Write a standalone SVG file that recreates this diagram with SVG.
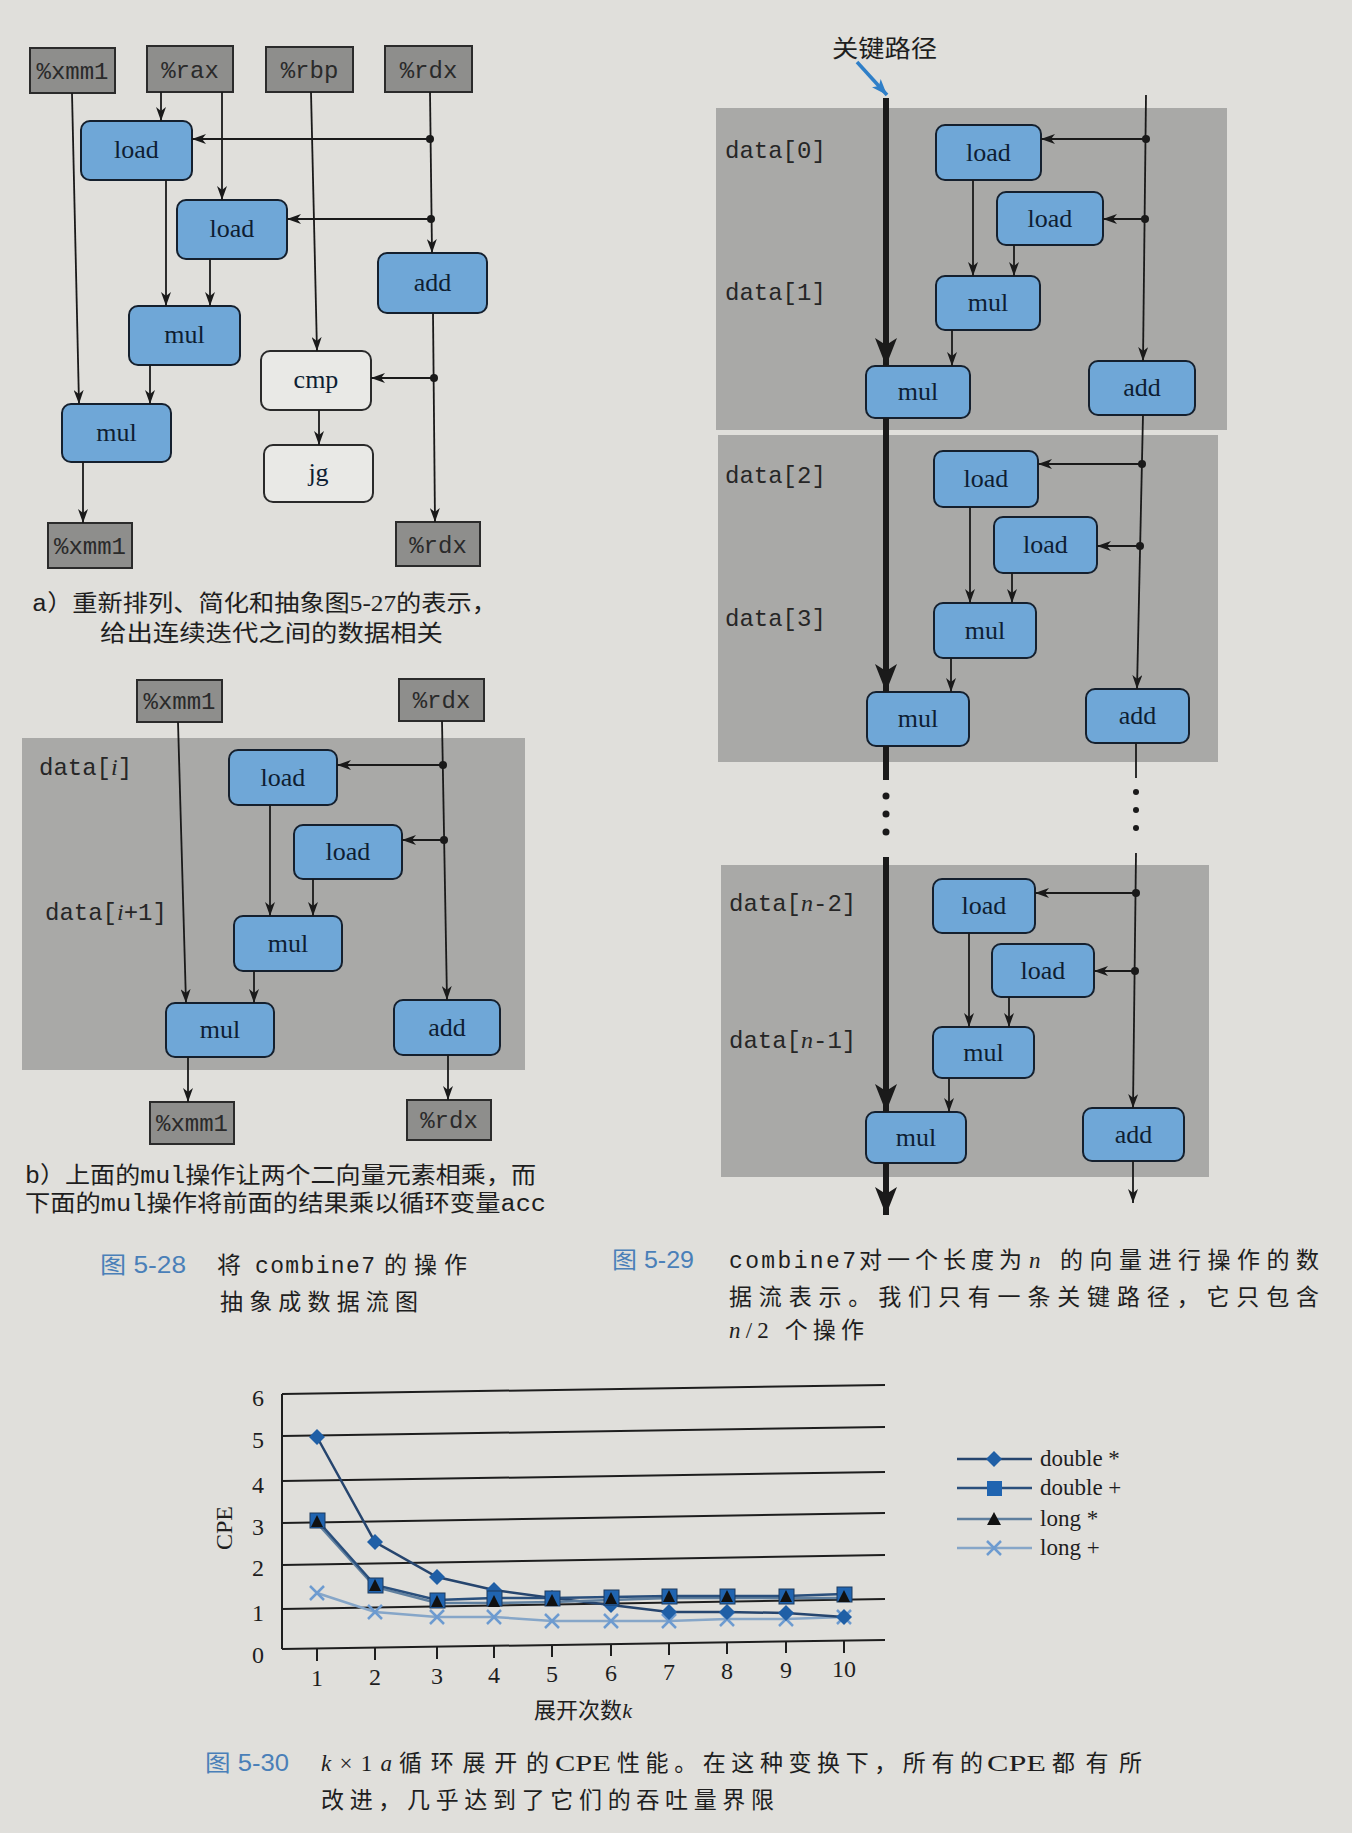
<svg xmlns="http://www.w3.org/2000/svg" width="1352" height="1833" viewBox="0 0 1352 1833">
<defs>
<marker id="ah" viewBox="0 0 14 10" refX="14" refY="5" markerWidth="14" markerHeight="10" markerUnits="userSpaceOnUse" orient="auto"><path d="M0,0 L14,5 L0,10 L4,5 z" fill="#1a1a1a"/></marker>
<marker id="ahb" viewBox="0 0 28 22" refX="28" refY="11" markerWidth="28" markerHeight="22" markerUnits="userSpaceOnUse" orient="auto"><path d="M0,0 L28,11 L0,22 L7,11 z" fill="#1a1a1a"/></marker>
<marker id="ahblue" viewBox="0 0 16 12" refX="16" refY="6" markerWidth="16" markerHeight="12" markerUnits="userSpaceOnUse" orient="auto"><path d="M0,0 L16,6 L0,12 L4,6 z" fill="#2f7fc8"/></marker>
<style>
.bg{fill:#e0dfdb}
.panel{fill:#a9a9a7}
.reg{fill:#8e8e8c;stroke:#2b2b2b;stroke-width:2}
.op{fill:#6fa7d7;stroke:#15202e;stroke-width:2}
.opw{fill:#e9e9e6;stroke:#2a2a2a;stroke-width:2}
.regt{font-family:"Liberation Mono",monospace;font-size:24px;fill:#2a2a2a;text-anchor:middle}
.opt{font-family:"Liberation Serif",serif;font-size:26px;fill:#0e1e33;text-anchor:middle}
.dl{font-family:"Liberation Mono",monospace;font-size:24px;fill:#262626}
.it{font-family:"Liberation Serif",serif;font-style:italic}
.e{fill:none;stroke:#1a1a1a;stroke-width:1.8}
.ea{fill:none;stroke:#1a1a1a;stroke-width:1.8;marker-end:url(#ah)}
.thick{fill:none;stroke:#1a1a1a;stroke-width:6}
.thicka{fill:none;stroke:#1a1a1a;stroke-width:6;marker-end:url(#ahb)}
.dot{fill:#1a1a1a}
.cap{font-family:"Liberation Serif","Noto Sans CJK SC",sans-serif;font-size:23px;fill:#1e1e1e}
.mono{font-family:"Liberation Mono",monospace}
.fig{font-family:"Liberation Sans","Noto Sans CJK SC",sans-serif;font-size:23px;fill:#4a7fb8}
.ax{font-family:"Liberation Serif",serif;font-size:24px;fill:#1e1e1e;text-anchor:middle}
.grid{stroke:#1e1e1e;stroke-width:2;fill:none}
.lg{font-family:"Liberation Serif",serif;font-size:23px;fill:#1e1e1e}
</style>
</defs>
<rect class="bg" x="0" y="0" width="1352" height="1833"/>

<!-- ===== Figure a ===== -->
<g id="a-xmm1-in"><rect class="reg" x="30" y="48" width="85" height="45"/><text class="regt" x="72.5" y="79">%xmm1</text></g>
<g id="a-rax"><rect class="reg" x="147" y="46" width="86" height="46"/><text class="regt" x="190" y="78">%rax</text></g>
<g id="a-rbp"><rect class="reg" x="266" y="47" width="87" height="45"/><text class="regt" x="309.5" y="78">%rbp</text></g>
<g id="a-rdx-in"><rect class="reg" x="385" y="46" width="87" height="46"/><text class="regt" x="428.5" y="78">%rdx</text></g>
<g id="a-load1"><rect class="op" x="81" y="121" width="111" height="59" rx="9"/><text class="opt" x="136.5" y="158">load</text></g>
<g id="a-load2"><rect class="op" x="177" y="200" width="110" height="59" rx="9"/><text class="opt" x="232" y="237">load</text></g>
<g id="a-add"><rect class="op" x="378" y="253" width="109" height="60" rx="9"/><text class="opt" x="432.5" y="291">add</text></g>
<g id="a-mul1"><rect class="op" x="129" y="306" width="111" height="59" rx="9"/><text class="opt" x="184.5" y="343">mul</text></g>
<g id="a-cmp"><rect class="opw" x="261" y="351" width="110" height="59" rx="9"/><text class="opt" x="316" y="388">cmp</text></g>
<g id="a-mul2"><rect class="op" x="62" y="404" width="109" height="58" rx="9"/><text class="opt" x="116.5" y="441">mul</text></g>
<g id="a-jg"><rect class="opw" x="264" y="445" width="109" height="57" rx="9"/><text class="opt" x="318.5" y="481">jg</text></g>
<g id="a-xmm1-out"><rect class="reg" x="48" y="523" width="84" height="45"/><text class="regt" x="90" y="554">%xmm1</text></g>
<g id="a-rdx-out"><rect class="reg" x="396" y="522" width="84" height="44"/><text class="regt" x="438" y="553">%rdx</text></g>

<g id="a-edges">
<path class="ea" d="M72,93 L79,404"/>
<path class="ea" d="M161,92 V121"/>
<path class="ea" d="M222,92 V200"/>
<path class="ea" d="M311,92 L317,351"/>
<path class="ea" d="M430,92 L432,253"/>
<path class="ea" d="M430,139 H192"/>
<path class="ea" d="M431,219 H287"/>
<path class="ea" d="M433,313 L435,522"/>
<path class="ea" d="M434,378 H371"/>
<path class="ea" d="M166,180 V306"/>
<path class="ea" d="M210,259 V306"/>
<path class="ea" d="M150,365 V404"/>
<path class="ea" d="M319,410 V445"/>
<path class="ea" d="M83,462 V523"/>
<circle class="dot" cx="430" cy="139" r="4"/>
<circle class="dot" cx="431" cy="219" r="4"/>
<circle class="dot" cx="434" cy="378" r="4"/>
</g>

<text class="cap" x="32" y="611" textLength="465" lengthAdjust="spacingAndGlyphs"><tspan class="mono">a</tspan>）重新排列、简化和抽象图5-27的表示，</text>
<text class="cap" x="100" y="641" textLength="343" lengthAdjust="spacingAndGlyphs">给出连续迭代之间的数据相关</text>

<!-- ===== Figure b ===== -->
<rect class="panel" x="22" y="738" width="503" height="332"/>
<text class="dl" x="39" y="775">data[<tspan class="it">i</tspan>]</text>
<text class="dl" x="45" y="920">data[<tspan class="it">i</tspan>+1]</text>
<g id="b-xmm1-in"><rect class="reg" x="137" y="680" width="85" height="42"/><text class="regt" x="179.5" y="709">%xmm1</text></g>
<g id="b-rdx-in"><rect class="reg" x="399" y="679" width="85" height="42"/><text class="regt" x="441.5" y="708">%rdx</text></g>
<g id="b-load1"><rect class="op" x="229" y="750" width="108" height="55" rx="9"/><text class="opt" x="283" y="786">load</text></g>
<g id="b-load2"><rect class="op" x="294" y="825" width="108" height="54" rx="9"/><text class="opt" x="348" y="860">load</text></g>
<g id="b-mul1"><rect class="op" x="234" y="916" width="108" height="55" rx="9"/><text class="opt" x="288" y="952">mul</text></g>
<g id="b-mul2"><rect class="op" x="166" y="1003" width="108" height="54" rx="9"/><text class="opt" x="220" y="1038">mul</text></g>
<g id="b-add"><rect class="op" x="394" y="1000" width="106" height="55" rx="9"/><text class="opt" x="447" y="1036">add</text></g>
<g id="b-xmm1-out"><rect class="reg" x="150" y="1102" width="84" height="42"/><text class="regt" x="192" y="1131">%xmm1</text></g>
<g id="b-rdx-out"><rect class="reg" x="407" y="1100" width="84" height="40"/><text class="regt" x="449" y="1128">%rdx</text></g>

<g id="b-edges">
<path class="ea" d="M178,722 L186,1003"/>
<path class="ea" d="M442,721 L447,1000"/>
<path class="ea" d="M443,765 H337"/>
<path class="ea" d="M444,840 H402"/>
<path class="ea" d="M270,805 V916"/>
<path class="ea" d="M313,879 V916"/>
<path class="ea" d="M254,971 V1003"/>
<path class="ea" d="M188,1057 V1102"/>
<path class="ea" d="M448,1055 V1100"/>
<circle class="dot" cx="443" cy="765" r="4"/>
<circle class="dot" cx="444" cy="840" r="4"/>
</g>

<text class="cap" x="25" y="1183" textLength="511" lengthAdjust="spacingAndGlyphs"><tspan class="mono">b</tspan>）上面的<tspan class="mono">mul</tspan>操作让两个二向量元素相乘，而</text>
<text class="cap" x="25" y="1211" textLength="521" lengthAdjust="spacingAndGlyphs">下面的<tspan class="mono">mul</tspan>操作将前面的结果乘以循环变量<tspan class="mono">acc</tspan></text>

<text class="fig" x="100" y="1273" textLength="86" lengthAdjust="spacingAndGlyphs">图 5-28</text>
<text class="cap" x="217" y="1273" textLength="24" lengthAdjust="spacingAndGlyphs">将</text>
<text class="cap mono" x="255" y="1273" textLength="120" lengthAdjust="spacing">combine7</text>
<text class="cap" x="384" y="1273" textLength="83" lengthAdjust="spacing">的操作</text>
<text class="cap" x="220" y="1310" textLength="198" lengthAdjust="spacing">抽象成数据流图</text>

<!-- ===== Figure 5-29 ===== -->
<rect class="panel" x="716" y="108" width="511" height="322"/>
<rect class="panel" x="718" y="435" width="500" height="327"/>
<rect class="panel" x="721" y="865" width="488" height="312"/>

<text x="832" y="57" font-family="Noto Sans CJK SC, sans-serif" font-size="24" fill="#1e1e1e" textLength="105" lengthAdjust="spacingAndGlyphs">关键路径</text>
<path d="M857,62 L887,95" stroke="#2f7fc8" stroke-width="3.5" fill="none" marker-end="url(#ahblue)"/>

<text class="dl" x="725" y="158">data[0]</text>
<text class="dl" x="725" y="300">data[1]</text>
<text class="dl" x="725" y="483">data[2]</text>
<text class="dl" x="725" y="626">data[3]</text>
<text class="dl" x="729" y="911">data[<tspan class="it">n</tspan>-2]</text>
<text class="dl" x="729" y="1048">data[<tspan class="it">n</tspan>-1]</text>

<g id="c1-load1"><rect class="op" x="936" y="125" width="105" height="55" rx="9"/><text class="opt" x="988.5" y="161">load</text></g>
<g id="c1-load2"><rect class="op" x="997" y="192" width="106" height="53" rx="9"/><text class="opt" x="1050" y="227">load</text></g>
<g id="c1-mul1"><rect class="op" x="936" y="276" width="104" height="54" rx="9"/><text class="opt" x="988" y="311">mul</text></g>
<g id="c1-mul2"><rect class="op" x="866" y="366" width="104" height="52" rx="9"/><text class="opt" x="918" y="400">mul</text></g>
<g id="c1-add"><rect class="op" x="1089" y="361" width="106" height="54" rx="9"/><text class="opt" x="1142" y="396">add</text></g>

<g id="c2-load1"><rect class="op" x="934" y="451" width="104" height="56" rx="9"/><text class="opt" x="986" y="487">load</text></g>
<g id="c2-load2"><rect class="op" x="994" y="517" width="103" height="56" rx="9"/><text class="opt" x="1045.5" y="553">load</text></g>
<g id="c2-mul1"><rect class="op" x="934" y="603" width="102" height="55" rx="9"/><text class="opt" x="985" y="639">mul</text></g>
<g id="c2-mul2"><rect class="op" x="867" y="692" width="102" height="54" rx="9"/><text class="opt" x="918" y="727">mul</text></g>
<g id="c2-add"><rect class="op" x="1086" y="689" width="103" height="54" rx="9"/><text class="opt" x="1137.5" y="724">add</text></g>

<g id="c3-load1"><rect class="op" x="933" y="879" width="102" height="54" rx="9"/><text class="opt" x="984" y="914">load</text></g>
<g id="c3-load2"><rect class="op" x="992" y="944" width="102" height="53" rx="9"/><text class="opt" x="1043" y="979">load</text></g>
<g id="c3-mul1"><rect class="op" x="933" y="1027" width="101" height="51" rx="9"/><text class="opt" x="983.5" y="1061">mul</text></g>
<g id="c3-mul2"><rect class="op" x="866" y="1112" width="100" height="51" rx="9"/><text class="opt" x="916" y="1146">mul</text></g>
<g id="c3-add"><rect class="op" x="1083" y="1108" width="101" height="53" rx="9"/><text class="opt" x="1133.5" y="1143">add</text></g>

<g id="c-edges">
<path class="thicka" d="M886,98 V366"/>
<path class="thicka" d="M886,418 V692"/>
<path class="thick" d="M886,746 V780"/>
<circle class="dot" cx="886" cy="796" r="3.5"/>
<circle class="dot" cx="886" cy="814" r="3.5"/>
<circle class="dot" cx="886" cy="832" r="3.5"/>
<path class="thicka" d="M886,857 V1112"/>
<path class="thicka" d="M886,1163 V1215"/>

<path class="ea" d="M1146,95 L1143,361"/>
<path class="ea" d="M1146,139 H1041"/>
<path class="ea" d="M1145,219 H1103"/>
<path class="ea" d="M973,180 V276"/>
<path class="ea" d="M1014,245 V276"/>
<path class="ea" d="M952,330 V366"/>
<circle class="dot" cx="1146" cy="139" r="4"/>
<circle class="dot" cx="1145" cy="219" r="4"/>

<path class="ea" d="M1143,415 L1137,689"/>
<path class="ea" d="M1142,464 H1038"/>
<path class="ea" d="M1140,546 H1097"/>
<path class="ea" d="M970,507 V603"/>
<path class="ea" d="M1012,573 V603"/>
<path class="ea" d="M951,658 V692"/>
<circle class="dot" cx="1142" cy="464" r="4"/>
<circle class="dot" cx="1140" cy="546" r="4"/>

<path class="e" d="M1136,743 V778"/>
<circle class="dot" cx="1136" cy="792" r="3"/>
<circle class="dot" cx="1136" cy="810" r="3"/>
<circle class="dot" cx="1136" cy="828" r="3"/>
<path class="ea" d="M1136,853 L1133,1108"/>
<path class="ea" d="M1136,893 H1035"/>
<path class="ea" d="M1135,971 H1094"/>
<path class="ea" d="M969,933 V1027"/>
<path class="ea" d="M1009,997 V1027"/>
<path class="ea" d="M949,1078 V1112"/>
<circle class="dot" cx="1136" cy="893" r="4"/>
<circle class="dot" cx="1135" cy="971" r="4"/>
<path class="ea" d="M1133,1161 V1203"/>
</g>

<text class="fig" x="612" y="1268" textLength="82" lengthAdjust="spacingAndGlyphs">图 5-29</text>
<text class="cap mono" x="729" y="1268" textLength="127" lengthAdjust="spacing">combine7</text>
<text class="cap" x="859" y="1268" textLength="163" lengthAdjust="spacing">对一个长度为</text>
<text class="cap it" x="1029" y="1268">n</text>
<text class="cap" x="1060" y="1268" textLength="259" lengthAdjust="spacing">的向量进行操作的数</text>
<text class="cap" x="729" y="1305" textLength="590" lengthAdjust="spacing">据流表示。我们只有一条关键路径，它只包含</text>
<text class="cap" x="729" y="1338" textLength="135" lengthAdjust="spacing"><tspan class="it">n</tspan>/2 个操作</text>

<!-- ===== Figure 5-30 chart ===== -->
<g id="chart">
<path class="grid" d="M282,1394 L885,1385"/>
<path class="grid" d="M282,1436 L885,1427"/>
<path class="grid" d="M282,1481 L885,1472"/>
<path class="grid" d="M282,1523 L885,1513"/>
<path class="grid" d="M282,1565 L885,1555"/>
<path class="grid" d="M282,1609 L885,1599"/>
<path class="grid" d="M282,1649 L885,1640"/>
<path class="grid" d="M282,1394 V1649"/>
<path class="grid" stroke-width="1.5" d="M317,1649 v12 M375,1648 v12 M437,1647 v12 M494,1646 v12 M552,1645 v12 M611,1644 v12 M669,1643 v12 M727,1642 v12 M786,1641 v12 M844,1641 v12"/>
<text class="ax" x="258" y="1406">6</text>
<text class="ax" x="258" y="1448">5</text>
<text class="ax" x="258" y="1493">4</text>
<text class="ax" x="258" y="1535">3</text>
<text class="ax" x="258" y="1576">2</text>
<text class="ax" x="258" y="1621">1</text>
<text class="ax" x="258" y="1663">0</text>
<text class="ax" x="317" y="1686">1</text>
<text class="ax" x="375" y="1685">2</text>
<text class="ax" x="437" y="1684">3</text>
<text class="ax" x="494" y="1683">4</text>
<text class="ax" x="552" y="1682">5</text>
<text class="ax" x="611" y="1681">6</text>
<text class="ax" x="669" y="1680">7</text>
<text class="ax" x="727" y="1679">8</text>
<text class="ax" x="786" y="1678">9</text>
<text class="ax" x="844" y="1677">10</text>
<text x="583" y="1718" font-family="Noto Sans CJK SC, sans-serif" font-size="22" fill="#1e1e1e" text-anchor="middle">展开次数<tspan font-family="Liberation Serif, serif" font-style="italic">k</tspan></text>
<text class="ax" font-size="22" transform="translate(232,1528) rotate(-90)">CPE</text>

<!-- long + -->
<polyline fill="none" stroke="#86a6c8" stroke-width="2.5" points="317,1593 375,1612 437,1617 494,1617 552,1621 611,1621 669,1621 727,1619 786,1619 844,1617"/>
<g stroke="#6d9bd0" stroke-width="2.5" fill="none">
<path d="M310,1586 l14,14 m0,-14 l-14,14"/>
<path d="M368,1605 l14,14 m0,-14 l-14,14"/>
<path d="M430,1610 l14,14 m0,-14 l-14,14"/>
<path d="M487,1610 l14,14 m0,-14 l-14,14"/>
<path d="M545,1614 l14,14 m0,-14 l-14,14"/>
<path d="M604,1614 l14,14 m0,-14 l-14,14"/>
<path d="M662,1614 l14,14 m0,-14 l-14,14"/>
<path d="M720,1612 l14,14 m0,-14 l-14,14"/>
<path d="M779,1612 l14,14 m0,-14 l-14,14"/>
<path d="M837,1610 l14,14 m0,-14 l-14,14"/>
</g>
<!-- double * -->
<polyline fill="none" stroke="#26456e" stroke-width="2.5" points="317,1437 375,1542 437,1577 494,1590 552,1598 611,1605 669,1612 727,1612 786,1613 844,1617"/>
<g fill="#1f5fa6">
<path d="M317,1429 l8,8 l-8,8 l-8,-8 z"/>
<path d="M375,1534 l8,8 l-8,8 l-8,-8 z"/>
<path d="M437,1569 l8,8 l-8,8 l-8,-8 z"/>
<path d="M494,1582 l8,8 l-8,8 l-8,-8 z"/>
<path d="M552,1590 l8,8 l-8,8 l-8,-8 z"/>
<path d="M611,1597 l8,8 l-8,8 l-8,-8 z"/>
<path d="M669,1604 l8,8 l-8,8 l-8,-8 z"/>
<path d="M727,1604 l8,8 l-8,8 l-8,-8 z"/>
<path d="M786,1605 l8,8 l-8,8 l-8,-8 z"/>
<path d="M844,1609 l8,8 l-8,8 l-8,-8 z"/>
</g>
<!-- long * line -->
<polyline fill="none" stroke="#5f7f9e" stroke-width="2.5" points="317,1523 375,1587 437,1603 494,1603 552,1602 611,1600 669,1598 727,1598 786,1598 844,1598"/>
<!-- double + -->
<polyline fill="none" stroke="#2a4f7c" stroke-width="2.5" points="317,1520 375,1585 437,1600 494,1598 552,1598 611,1597 669,1596 727,1596 786,1596 844,1594"/>
<g fill="#2064b0" stroke="#1d3b5e" stroke-width="1">
<rect x="310" y="1513" width="15" height="15"/>
<rect x="368" y="1578" width="15" height="15"/>
<rect x="430" y="1593" width="15" height="15"/>
<rect x="487" y="1591" width="15" height="15"/>
<rect x="545" y="1591" width="15" height="15"/>
<rect x="604" y="1590" width="15" height="15"/>
<rect x="662" y="1589" width="15" height="15"/>
<rect x="720" y="1589" width="15" height="15"/>
<rect x="779" y="1589" width="15" height="15"/>
<rect x="837" y="1587" width="15" height="15"/>
</g>
<g fill="#111111">
<path d="M317,1515 l6,12 h-12 z"/>
<path d="M375,1579 l6,12 h-12 z"/>
<path d="M437,1595 l6,12 h-12 z"/>
<path d="M494,1595 l6,12 h-12 z"/>
<path d="M552,1594 l6,12 h-12 z"/>
<path d="M611,1592 l6,12 h-12 z"/>
<path d="M669,1590 l6,12 h-12 z"/>
<path d="M727,1590 l6,12 h-12 z"/>
<path d="M786,1590 l6,12 h-12 z"/>
<path d="M844,1590 l6,12 h-12 z"/>
</g>

<!-- legend -->
<path d="M957,1459 H1032" stroke="#26456e" stroke-width="2.5"/>
<path d="M994,1451 l8,8 l-8,8 l-8,-8 z" fill="#1f5fa6"/>
<text class="lg" x="1040" y="1466">double *</text>
<path d="M957,1488 H1032" stroke="#2a4f7c" stroke-width="2.5"/>
<rect x="987" y="1481" width="15" height="15" fill="#2064b0"/>
<text class="lg" x="1040" y="1495">double +</text>
<path d="M957,1519 H1032" stroke="#5f7f9e" stroke-width="2.5"/>
<path d="M994,1512 l7,13 h-14 z" fill="#111111"/>
<text class="lg" x="1040" y="1526">long *</text>
<path d="M957,1548 H1032" stroke="#86a6c8" stroke-width="2.5"/>
<path d="M987,1541 l14,14 m0,-14 l-14,14" stroke="#6d9bd0" stroke-width="2.5" fill="none"/>
<text class="lg" x="1040" y="1555">long +</text>
</g>

<text class="fig" x="205" y="1771" textLength="84" lengthAdjust="spacingAndGlyphs">图 5-30</text>
<text class="cap" x="321" y="1771" textLength="71" lengthAdjust="spacing"><tspan class="it">k</tspan>×1<tspan class="it">a</tspan></text>
<text class="cap" x="399" y="1771" textLength="150" lengthAdjust="spacing">循环展开的</text>
<text class="cap" x="555" y="1771" textLength="56" lengthAdjust="spacingAndGlyphs">CPE</text>
<text class="cap" x="617" y="1771" textLength="366" lengthAdjust="spacing">性能。在这种变换下，所有的</text>
<text class="cap" x="987" y="1771" textLength="59" lengthAdjust="spacingAndGlyphs">CPE</text>
<text class="cap" x="1052" y="1771" textLength="90" lengthAdjust="spacing">都有所</text>
<text class="cap" x="321" y="1808" textLength="453" lengthAdjust="spacing">改进，几乎达到了它们的吞吐量界限</text>
</svg>
